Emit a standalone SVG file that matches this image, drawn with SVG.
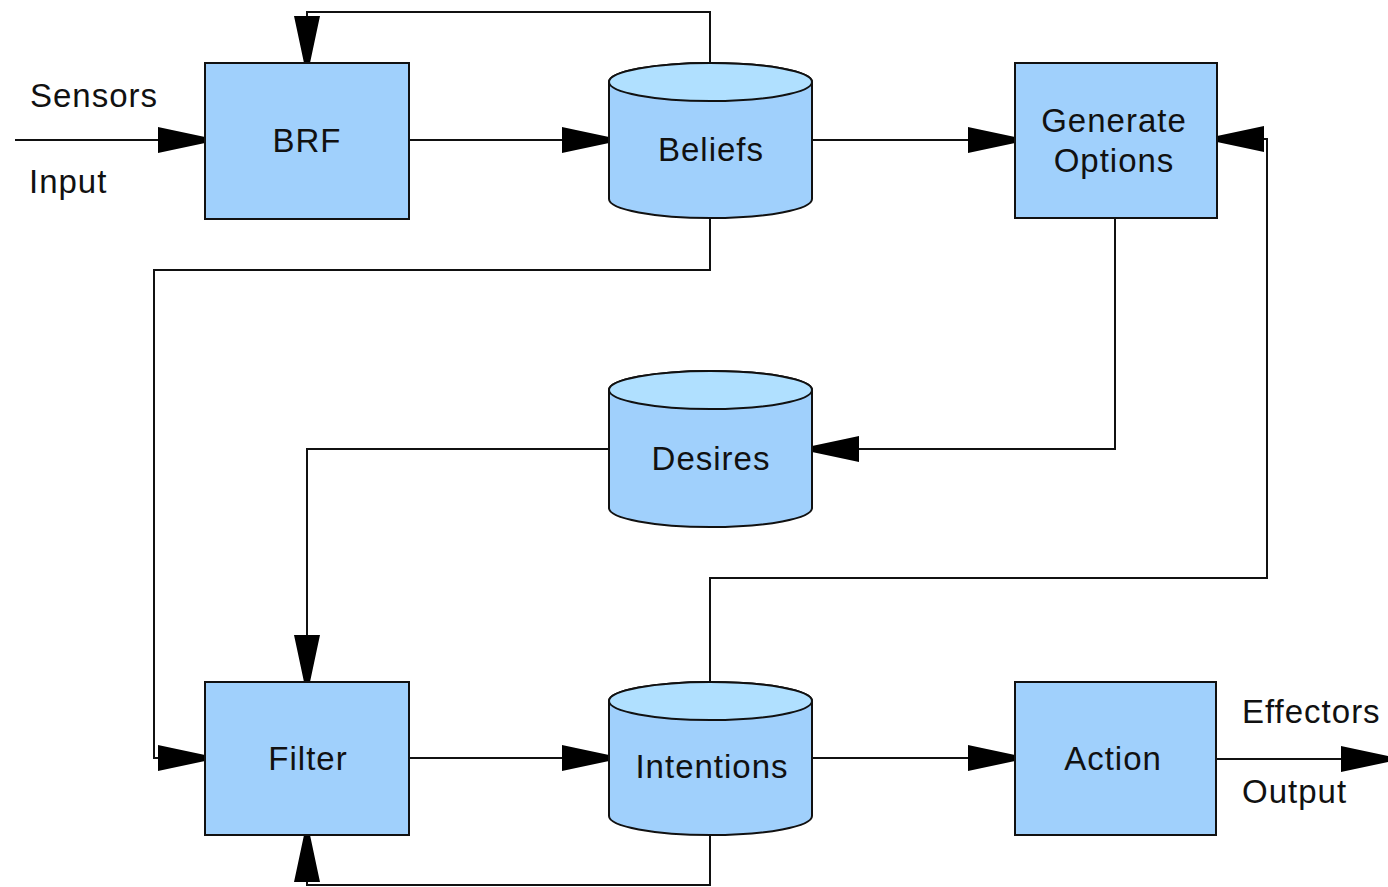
<svg xmlns="http://www.w3.org/2000/svg" width="1388" height="887" viewBox="0 0 1388 887">
<style>
.box{fill:#a0d0fc;stroke:#111;stroke-width:2}
.cyl{fill:#a0d0fc;stroke:#111;stroke-width:2}
.cyltop{fill:#b0e0ff;stroke:#111;stroke-width:2}
.lbl{font-family:"Liberation Sans",Arial,sans-serif;font-size:33px;fill:#111;letter-spacing:1px}
.mid{text-anchor:middle}
.con{fill:none;stroke:#111;stroke-width:2}
</style>
<defs>
<marker id="ah" viewBox="0 0 47 26" refX="47" refY="13" markerWidth="47" markerHeight="26" markerUnits="userSpaceOnUse" orient="auto">
<path d="M0,0 L14,3 L47,10 L47,16 L14,23 L0,26 Z" fill="#000"/>
</marker>
</defs>
<rect width="1388" height="887" fill="#fff"/>
<g id="connectors">
<path class="con" d="M15,140 H205" marker-end="url(#ah)"/>
<path class="con" d="M409,140 H609" marker-end="url(#ah)"/>
<path class="con" d="M710,63 V12 H307 V63" marker-end="url(#ah)"/>
<path class="con" d="M812,140 H1015" marker-end="url(#ah)"/>
<path class="con" d="M1115,218 V449 H812" marker-end="url(#ah)"/>
<path class="con" d="M609,449 H307 V682" marker-end="url(#ah)"/>
<path class="con" d="M710,218 V270 H154 V758 H205" marker-end="url(#ah)"/>
<path class="con" d="M409,758 H609" marker-end="url(#ah)"/>
<path class="con" d="M710,835 V885 H307 V835" marker-end="url(#ah)"/>
<path class="con" d="M710,682 V578 H1267 V139 H1217" marker-end="url(#ah)"/>
<path class="con" d="M812,758 H1015" marker-end="url(#ah)"/>
<path class="con" d="M1216,759 H1388" marker-end="url(#ah)"/>
</g>
<g id="labels">
<text class="lbl" x="30" y="107">Sensors</text>
<text class="lbl" x="29" y="193">Input</text>
<text class="lbl" x="1242" y="723">Effectors</text>
<text class="lbl" x="1242" y="803">Output</text>
</g>
<g id="brf">
<rect class="box" x="205" y="63" width="204" height="156"/>
<text class="lbl mid" x="307" y="152">BRF</text>
</g>
<g id="beliefs">
<path class="cyl" d="M609,82 A101.5,19 0 0 1 812,82 V199 A101.5,19 0 0 1 609,199 Z"/>
<ellipse class="cyltop" cx="710.5" cy="82" rx="101.5" ry="19"/>
<text class="lbl mid" x="711" y="161">Beliefs</text>
</g>
<g id="generate-options">
<rect class="box" x="1015" y="63" width="202" height="155"/>
<text class="lbl mid" x="1114" y="132">Generate</text>
<text class="lbl mid" x="1114" y="172">Options</text>
</g>
<g id="desires">
<path class="cyl" d="M609,390 A101.5,19 0 0 1 812,390 V508 A101.5,19 0 0 1 609,508 Z"/>
<ellipse class="cyltop" cx="710.5" cy="390" rx="101.5" ry="19"/>
<text class="lbl mid" x="711" y="470">Desires</text>
</g>
<g id="filter">
<rect class="box" x="205" y="682" width="204" height="153"/>
<text class="lbl mid" x="308" y="770">Filter</text>
</g>
<g id="intentions">
<path class="cyl" d="M609,701 A101.5,19 0 0 1 812,701 V816 A101.5,19 0 0 1 609,816 Z"/>
<ellipse class="cyltop" cx="710.5" cy="701" rx="101.5" ry="19"/>
<text class="lbl mid" x="712" y="778">Intentions</text>
</g>
<g id="action">
<rect class="box" x="1015" y="682" width="201" height="153"/>
<text class="lbl mid" x="1113" y="770">Action</text>
</g>
</svg>
